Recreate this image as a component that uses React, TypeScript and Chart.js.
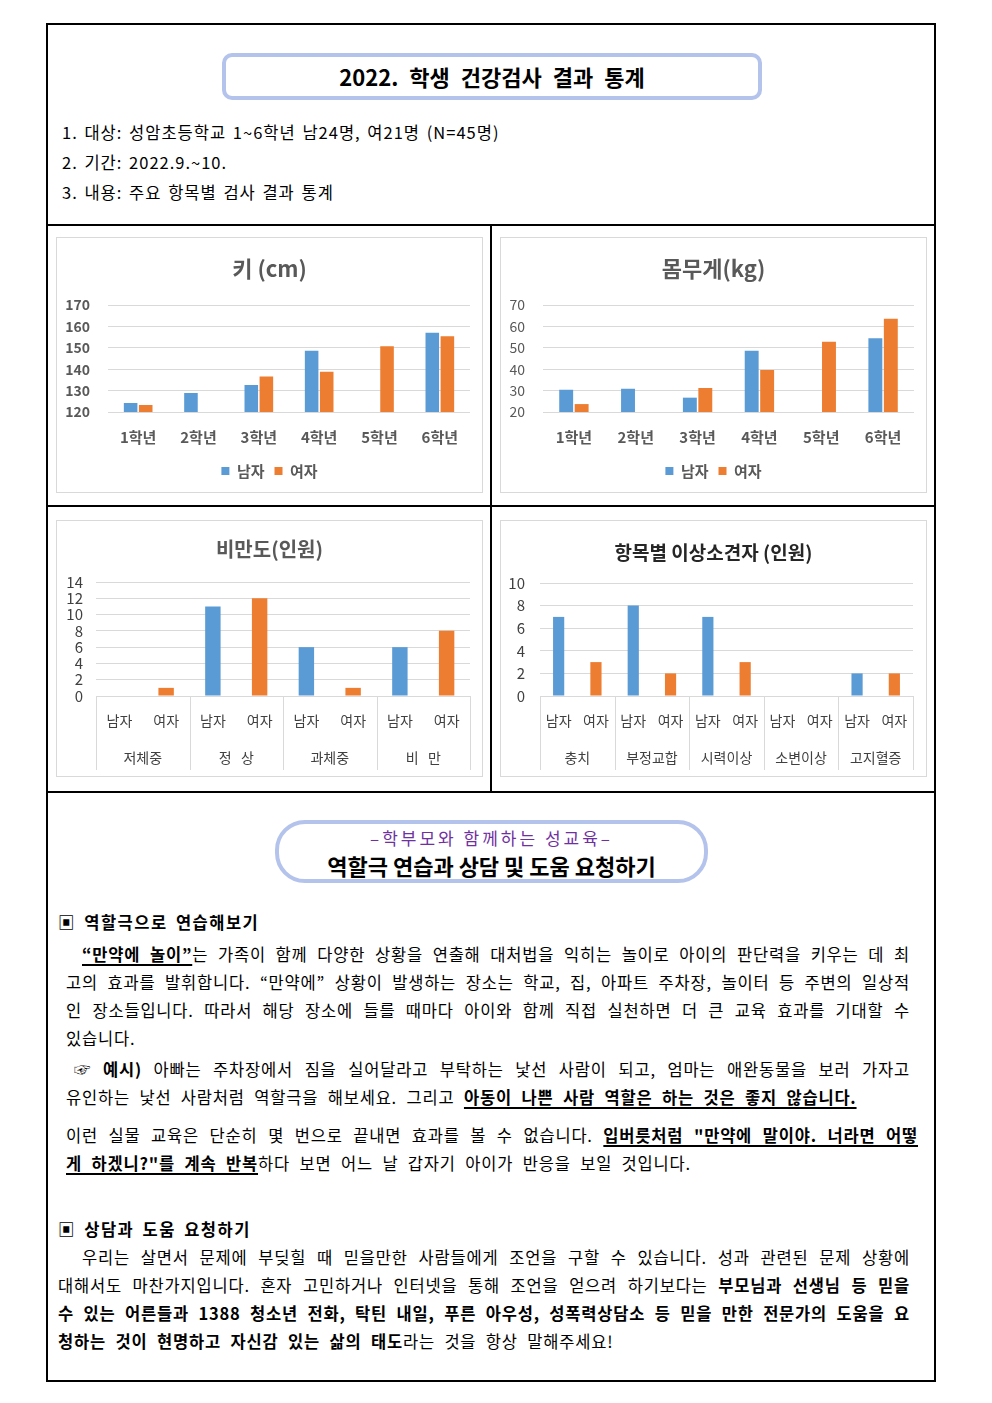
import React, { useEffect, useRef } from "react";
import { Chart, registerables } from "chart.js";

Chart.register(...registerables);
Chart.defaults.font.family = '"Noto Sans CJK KR", "Noto Sans", sans-serif';

// ---------- data ----------
const grades = ["1학년", "2학년", "3학년", "4학년", "5학년", "6학년"];
const seriesNames = ["남자", "여자"];
const heightMale = [124.2, 128.9, 132.6, 148.6, null, 157.0];
const heightFemale = [123.3, null, 136.6, 138.8, 150.7, 155.4];
const heightTicks = { min: 120, max: 170, step: 10 };
const weightMale = [30.4, 30.9, 26.7, 48.6, null, 54.5];
const weightFemale = [23.7, null, 31.2, 39.6, 52.8, 63.6];
const weightTicks = { min: 20, max: 70, step: 10 };
const obesityGroups = ["저체중", "정   상", "과체중", "비   만"];
const obesityMale = [0, 11, 6, 6];
const obesityFemale = [1, 12, 1, 8];
const obesityTicks = { min: 0, max: 14, step: 2 };
const abnormalGroups = ["충치", "부정교합", "시력이상", "소변이상", "고지혈증"];
const abnormalMale = [7, 8, 7, 0, 2];
const abnormalFemale = [3, 2, 3, 0, 2];
const abnormalTicks = { min: 0, max: 10, step: 2 };

const BLUE = "#5b9bd5";
const ORANGE = "#ed7d31";
const GRID = "#d9d9d9";
const FONT = '"Noto Sans CJK KR", "Noto Sans", sans-serif';

// an empty axis on the right that only reserves space, so the title stays centred on the whole box
function spacerAxis(w: number): any {
  return {
    type: "linear",
    position: "right",
    display: true,
    ticks: { display: false },
    grid: { display: false, drawTicks: false },
    border: { display: false },
    afterFit: (s: any) => { s.width = w; },
  };
}

function gradeChart(title: string, male: any[], female: any[], t: any, yWidth: number, tickBold: boolean): any {
  return {
    type: "bar",
    data: {
      labels: grades,
      datasets: [
        { label: seriesNames[0], data: male, backgroundColor: BLUE, categoryPercentage: 0.5, barPercentage: 0.9, xAxisID: "x", yAxisID: "y" },
        { label: seriesNames[1], data: female, backgroundColor: ORANGE, categoryPercentage: 0.5, barPercentage: 0.9, xAxisID: "x", yAxisID: "y" },
      ],
    },
    options: {
      responsive: false,
      animation: false,
      events: [],
      layout: { padding: { left: 0, right: 0, top: 0, bottom: 3.5 } },
      plugins: {
        title: { display: true, text: title, color: "#595959", font: { size: 22, weight: "bold" }, padding: { top: 17.8, bottom: 22.8 } },
        legend: {
          position: "bottom",
          labels: { boxWidth: 8, boxHeight: 8, color: "#595959", font: { size: 15, weight: "bold" }, padding: 10 },
        },
        tooltip: { enabled: false },
      },
      scales: {
        x: {
          grid: { display: false, drawTicks: false },
          border: { display: false },
          ticks: { color: "#595959", font: { size: 15, weight: "bold" }, padding: 16, maxRotation: 0 },
          afterFit: (s: any) => { s.height = 41.5; },
        },
        y: {
          min: t.min,
          max: t.max,
          ticks: { stepSize: t.step, autoSkip: false, color: "#595959", font: { size: 14, weight: tickBold ? "bold" : "normal" }, padding: 18 },
          grid: { color: GRID, drawTicks: false },
          border: { display: false },
          afterFit: (s: any) => { s.width = yWidth; },
        },
        yR: spacerAxis(12),
      },
    },
  };
}

const separatorPlugin = {
  id: "groupSeparators",
  afterDraw(chart: any) {
    const x2 = chart.scales.x2;
    const area = chart.chartArea;
    const ctx = chart.ctx;
    const n = x2.getLabels().length;
    ctx.save();
    ctx.strokeStyle = GRID;
    ctx.lineWidth = 1;
    for (let i = 0; i <= n; i++) {
      const px = Math.round(x2.getPixelForValue(i - 0.5)) + 0.5;
      ctx.beginPath();
      ctx.moveTo(px, area.bottom);
      ctx.lineTo(px, x2.bottom);
      ctx.stroke();
    }
    ctx.restore();
  },
};

function groupChart(title: string, groups: string[], male: number[], female: number[], t: any, o: any): any {
  const labels = groups.flatMap(() => seriesNames);
  const values = groups.flatMap((_, i) => [male[i], female[i]]);
  const colors = groups.flatMap(() => [BLUE, ORANGE]);
  return {
    type: "bar",
    data: {
      labels,
      datasets: [
        { data: values, backgroundColor: colors, categoryPercentage: 1, barPercentage: o.bar, xAxisID: "x", yAxisID: "y" },
      ],
    },
    options: {
      responsive: false,
      animation: false,
      events: [],
      layout: { padding: { left: 0, right: 0, top: 0, bottom: 6 } },
      plugins: {
        title: { display: true, text: title, color: o.titleColor, font: { size: o.titleSize, weight: "bold" }, padding: { top: o.tTop, bottom: o.tBottom } },
        legend: { display: false },
        tooltip: { enabled: false },
      },
      scales: {
        x: {
          offset: true,
          grid: { display: false, drawTicks: false },
          border: { display: false },
          ticks: { color: "#404040", font: { size: 14 }, padding: 16.6, maxRotation: 0, autoSkip: false },
          afterFit: (s: any) => { s.height = 44; },
        },
        x2: {
          type: "category",
          position: "bottom",
          weight: 1,
          offset: true,
          labels: groups,
          grid: { display: false, drawTicks: false },
          border: { display: false },
          ticks: { color: "#404040", font: { size: 14 }, padding: 9.6, maxRotation: 0, autoSkip: false },
          afterFit: (s: any) => { s.height = 30; },
        },
        y: {
          min: t.min,
          max: t.max,
          ticks: { stepSize: t.step, autoSkip: false, color: "#404040", font: { size: o.tickSize }, padding: o.yPad },
          grid: { color: GRID, drawTicks: false },
          border: { display: false },
          afterFit: (s: any) => { s.width = o.yWidth; },
        },
        yR: spacerAxis(o.right),
      },
    },
    plugins: [separatorPlugin],
  };
}

function ChartBox({ left, top, width, height, make }: any) {
  const ref = useRef<HTMLCanvasElement>(null);
  useEffect(() => {
    const c = new Chart(ref.current as HTMLCanvasElement, make());
    return () => c.destroy();
  }, []);
  return (
    <div style={{ position: "absolute", left, top, width, height, border: `1px solid ${GRID}`, boxSizing: "border-box", background: "#fff" }}>
      <canvas ref={ref} width={width - 2} height={height - 2} style={{ display: "block", width: width - 2, height: height - 2 }} />
    </div>
  );
}

function Line({ y, x, r, j = true, size = 16.5, children, style }: any) {
  return (
    <div
      style={{
        position: "absolute",
        left: x,
        top: y - 11,
        width: r ? r - x : undefined,
        height: 22,
        lineHeight: "22px",
        fontSize: size,
        letterSpacing: 0.8,
        whiteSpace: r ? "normal" : "nowrap",
        textAlign: j ? "justify" : "left",
        textAlignLast: j ? "justify" : "left",
        ...style,
      } as any}
    >
      {children}
    </div>
  );
}

const BU = ({ children }: any) => (
  <span style={{ fontWeight: 700, textDecoration: "underline", textUnderlineOffset: 3, textDecorationThickness: 1.5 } as any}>{children}</span>
);
const B = ({ children }: any) => <span style={{ fontWeight: 700 }}>{children}</span>;

function HLine({ y }: any) {
  return <div style={{ position: "absolute", left: 46, top: y, width: 890, height: 2, background: "#000" }} />;
}

export default function App() {
  return (
    <div style={{ position: "absolute", left: 0, top: 0, width: 992, height: 1403, background: "#fff", fontFamily: FONT, color: "#000" }}>
      {/* outer frame */}
      <div style={{ position: "absolute", left: 46, top: 23, width: 890, height: 1359, border: "2px solid #000", boxSizing: "border-box" }} />
      <HLine y={224} />
      <HLine y={505} />
      <HLine y={791} />
      <div style={{ position: "absolute", left: 490, top: 225, width: 2, height: 567, background: "#000" }} />

      {/* header */}
      <div
        style={{
          position: "absolute", left: 222, top: 53, width: 540, height: 47,
          border: "4px solid #b4c3eb", borderRadius: 10, boxSizing: "border-box",
        }}
      />
      <div style={{ position: "absolute", left: 222, top: 62, width: 540, height: 28, lineHeight: "28px", textAlign: "center", fontSize: 22, fontWeight: 700, wordSpacing: 6 }}>
        2022. 학생 건강검사 결과 통계
      </div>
      <Line y={132} x={62} j={false} style={{ letterSpacing: 1, wordSpacing: 2 }}>1. 대상: 성암초등학교 1~6학년 남24명, 여21명 (N=45명)</Line>
      <Line y={162} x={62} j={false} style={{ letterSpacing: 1, wordSpacing: 2 }}>2. 기간: 2022.9.~10.</Line>
      <Line y={192} x={62} j={false} style={{ letterSpacing: 1, wordSpacing: 2 }}>3. 내용: 주요 항목별 검사 결과 통계</Line>

      {/* charts */}
      <ChartBox left={56} top={237} width={427} height={256} make={() => gradeChart("키 (cm)", heightMale, heightFemale, heightTicks, 51, true)} />
      <ChartBox left={500} top={237} width={427} height={256} make={() => gradeChart("몸무게(kg)", weightMale, weightFemale, weightTicks, 42, false)} />
      <ChartBox
        left={56} top={520} width={427} height={257}
        make={() => groupChart("비만도(인원)", obesityGroups, obesityMale, obesityFemale, obesityTicks, {
          bar: 0.33, right: 12, titleColor: "#595959", titleSize: 20, tTop: 16, tBottom: 21, tickSize: 15, yPad: 13, yWidth: 39,
        })}
      />
      <ChartBox
        left={500} top={520} width={427} height={257}
        make={() => groupChart("항목별 이상소견자 (인원)", abnormalGroups, abnormalMale, abnormalFemale, abnormalTicks, {
          bar: 0.3, right: 13, titleColor: "#262626", titleSize: 19, tTop: 20.6, tBottom: 18.6, tickSize: 15, yPad: 15, yWidth: 39,
        })}
      />

      {/* section 2 header */}
      <div style={{ position: "absolute", left: 275, top: 820, width: 433, height: 63, border: "4px solid #b4c3eb", borderRadius: 30, boxSizing: "border-box" }} />
      <div style={{ position: "absolute", left: 275, top: 828, width: 433, height: 20, lineHeight: "20px", textAlign: "center", fontSize: 17, color: "#7030a0", letterSpacing: 3 }}>
        –학부모와 함께하는 성교육–
      </div>
      <div style={{ position: "absolute", left: 275, top: 851, width: 433, height: 28, lineHeight: "28px", textAlign: "center", fontSize: 22, fontWeight: 700 }}>
        역할극 연습과 상담 및 도움 요청하기
      </div>

      <Line y={922} x={58} j={false} style={{ fontWeight: 600, letterSpacing: 1.5, wordSpacing: 3 }}>▣ 역할극으로 연습해보기</Line>
      <Line y={954} x={82} r={910}>
        <BU>“만약에 놀이”</BU>는 가족이 함께 다양한 상황을 연출해 대처법을 익히는 놀이로 아이의 판단력을 키우는 데 최
      </Line>
      <Line y={982} x={66} r={910}>
        고의 효과를 발휘합니다. “만약에” 상황이 발생하는 장소는 학교, 집, 아파트 주차장, 놀이터 등 주변의 일상적
      </Line>
      <Line y={1010} x={66} r={910}>
        인 장소들입니다. 따라서 해당 장소에 들를 때마다 아이와 함께 직접 실천하면 더 큰 교육 효과를 기대할 수
      </Line>
      <Line y={1038} x={66} j={false}>있습니다.</Line>
      <Line y={1069} x={74} r={910}>
        ☞ <B>예시)</B> 아빠는 주차장에서 짐을 실어달라고 부탁하는 낯선 사람이 되고, 엄마는 애완동물을 보러 가자고
      </Line>
      <Line y={1097} x={66} j={false} style={{ wordSpacing: 5 }}>
        유인하는 낯선 사람처럼 역할극을 해보세요. 그리고 <BU>아동이 나쁜 사람 역할은 하는 것은 좋지 않습니다.</BU>
      </Line>
      <Line y={1135} x={66} r={918}>
        이런 실물 교육은 단순히 몇 번으로 끝내면 효과를 볼 수 없습니다. <BU>입버릇처럼 "만약에 말이야. 너라면 어떻</BU>
      </Line>
      <Line y={1163} x={66} j={false} style={{ wordSpacing: 5 }}>
        <BU>게 하겠니?"를 계속 반복</BU>하다 보면 어느 날 갑자기 아이가 반응을 보일 것입니다.
      </Line>

      <Line y={1229} x={58} j={false} style={{ fontWeight: 600, letterSpacing: 1.5, wordSpacing: 3 }}>▣ 상담과 도움 요청하기</Line>
      <Line y={1257} x={82} r={910}>
        우리는 살면서 문제에 부딪힐 때 믿을만한 사람들에게 조언을 구할 수 있습니다. 성과 관련된 문제 상황에
      </Line>
      <Line y={1285} x={58} r={910}>
        대해서도 마찬가지입니다. 혼자 고민하거나 인터넷을 통해 조언을 얻으려 하기보다는 <B>부모님과 선생님 등 믿을</B>
      </Line>
      <Line y={1313} x={58} r={910} style={{ fontWeight: 700 }}>
        수 있는 어른들과 1388 청소년 전화, 탁틴 내일, 푸른 아우성, 성폭력상담소 등 믿을 만한 전문가의 도움을 요
      </Line>
      <Line y={1341} x={58} j={false} style={{ wordSpacing: 5 }}>
        <B>청하는 것이 현명하고 자신감 있는 삶의 태도</B>라는 것을 항상 말해주세요!
      </Line>
    </div>
  );
}
